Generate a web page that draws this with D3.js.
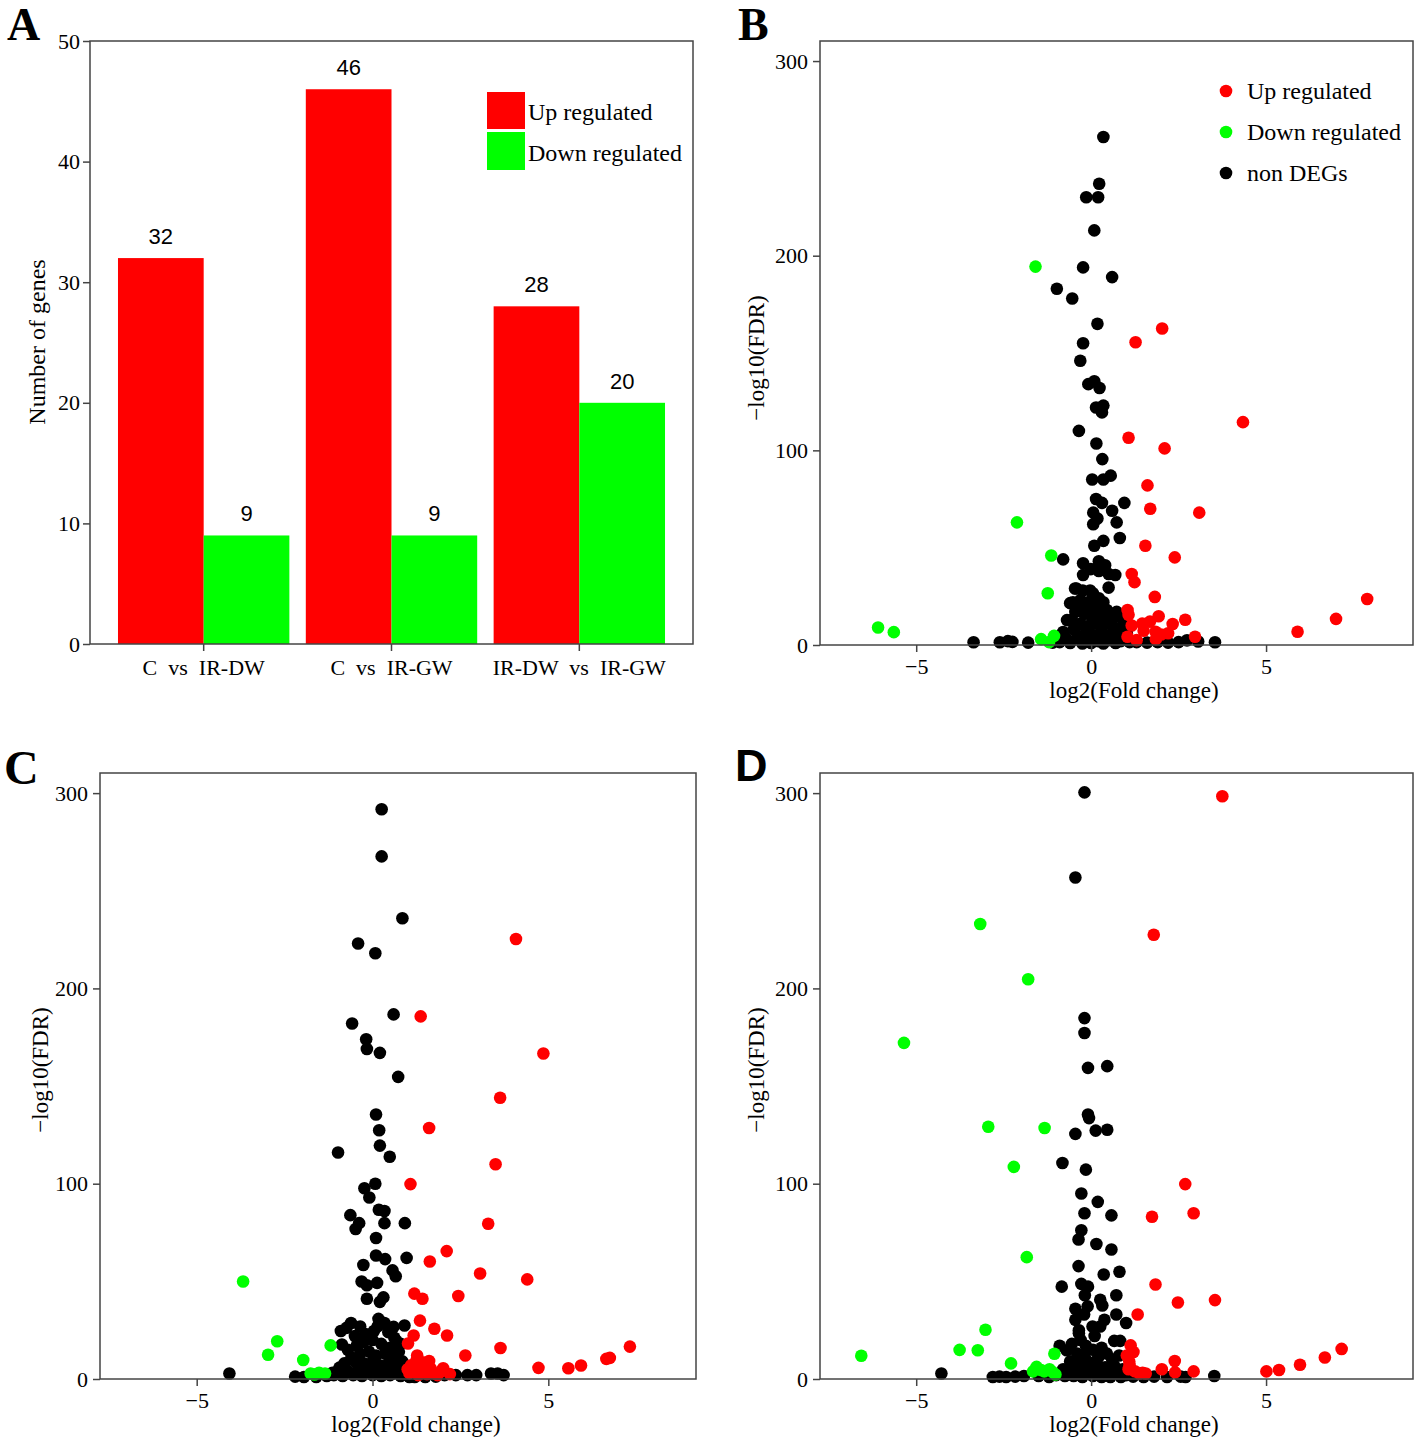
<!DOCTYPE html>
<html>
<head>
<meta charset="utf-8">
<script src="https://cdn.jsdelivr.net/npm/d3@7"></script>
<style>
  body { margin: 0; background: #fff; }
  svg { display: block; }
  .serif { font-family: "Liberation Serif", "Times New Roman", serif; }
  .sans { font-family: "Liberation Sans", Arial, sans-serif; }
</style>
</head>
<body>
<svg id="chart" width="1418" height="1443"></svg>
<script>
// ---------------- Panel A data ----------------
const barCategories = ["C  vs  IR-DW", "C  vs  IR-GW", "IR-DW  vs  IR-GW"];
const upCounts = [32, 46, 28];
const downCounts = [9, 9, 20];
const barYTicks = [0, 10, 20, 30, 40, 50];
const legendLabelsA = ["Up regulated", "Down regulated"];

// ---------------- Volcano axes ----------------
const volcanoXTicks = [-5, 0, 5];
const volcanoYTicks = [0, 100, 200, 300];
const volcanoLegend = ["Up regulated", "Down regulated", "non DEGs"];

// ---------------- Panel B data (log2FC, -log10 FDR) ----------------
const bUp = [[2.03,162.6],[1.27,155.5],[4.34,114.5],[1.07,106.5],[2.1,101],[1.61,82],[1.69,70],[3.09,68],[1.55,51],[2.39,45],[1.16,36.5],[1.24,32.3],[1.82,24.7],[7.89,23.6],[7.0,13.4],[5.9,6.8],[1.04,18],[1.07,15.5],[1.93,14.8],[1.46,11],[1.68,12],[2.33,10.8],[2.69,13],[1.16,10],[1.5,7.3],[1.84,6.8],[2.0,5.4],[2.2,6],[2.97,4.2],[1.04,4.2],[1.3,2.5],[1.85,3]];
const bDown = [[-1.59,194.4],[-2.12,63],[-1.14,46],[-1.24,26.6],[-6.09,9],[-5.64,6.6],[-1.43,3],[-1.06,4.7],[-1.2,1.5]];
const bNon = [[0.35,261],[0.23,237],[-0.14,230],[0.2,230],[0.09,213],[-0.23,194],[0.6,189],[-0.98,183],[-0.54,178],[0.18,165],[-0.23,155],[-0.31,146],[-0.08,134],[0.09,135.5],[0.24,132],[0.14,122],[0.35,123],[0.31,119.5],[-0.35,110],[0.15,103.5],[0.32,95.5],[0.03,85],[0.35,85],[0.56,87],[0.14,75],[0.31,73],[0.95,73],[0.6,69],[0.06,68],[0.18,65],[0.73,63],[0.06,62],[0.82,55],[0.35,53.5],[0.09,51],[-0.8,44],[-0.23,42],[0.22,43],[0.4,41],[-0.01,39],[0.22,38],[-0.23,36],[0.5,36.5],[0.69,36],[0.5,29.5],[-0.42,29],[-0.24,28],[0.05,26.6],[0.22,24],[-0.52,22],[-0.14,20],
  [-0.46,29],[-0.03,28],[-0.31,23],[0.06,24],[-0.6,21.5],[0.2,19.5],[0.45,18],[0.73,17],[0.83,14.4],[-0.69,12.8],[0.92,10.3],[-0.8,6.7],[1.02,6],[-0.45,17],[-0.2,16],[0.0,15],[0.25,14],[0.5,13],[-0.55,13],[-0.3,11],[-0.05,10],[0.3,9],[0.6,10],[0.75,7],[-0.5,8],[-0.15,6],[0.1,5],[0.45,5],[-0.7,3],[-0.4,3.5],[-0.1,2.5],[0.2,2],[0.55,2.5],[0.85,2],[-0.9,1.5],[1.1,1.5],[-1.1,1.2],[0.35,0.8],[-0.25,0.8],[0.7,1],[-0.6,1],[0.0,1],[-0.35,19],[0.1,18],[0.35,22],[-0.1,22],[0.6,14],[-0.25,4.5],[0.3,4],[0.15,11],[-0.4,10],
  [-3.36,1.4],[-2.61,1.4],[-2.38,2],[-2.25,1.6],[-1.8,1.2],[2.74,2.4],[3.06,1.8],[3.54,1.4],[2.5,1.5],[2.2,1.2],[1.9,1.5],[1.6,1.2],[1.3,1.5]];

// ---------------- Panel C data ----------------
const cUp = [[4.08,225.3],[1.37,185.7],[4.86,166.7],[3.63,144],[1.61,128.5],[3.5,110],[1.08,99.8],[3.29,79.5],[2.11,65.5],[1.63,60.2],[3.06,54],[4.4,51],[2.44,42.5],[1.19,43.7],[1.42,41.1],[1.35,29.9],[1.76,25.7],[2.12,22.3],[1.17,22.3],[1.01,18.2],[3.64,15.9],[7.32,16.6],[6.65,10.3],[6.75,10.8],[5.93,6.9],[5.57,5.5],[4.72,5.7],[2.64,12],[1.27,12],[1.61,9.2],[1.42,8.5],[2.01,5.5],
  [1.05,3],[1.2,5],[1.3,2],[1.45,4],[1.55,2.5],[1.7,3],[1.85,2],[1.95,4],[1.1,7],[1.35,6.5],[1.65,5.5],[2.2,2.5],[1.0,5],[1.25,9.5]];
const cDown = [[-3.68,49.9],[-2.71,19.3],[-2.97,12.4],[-1.97,9.7],[-1.19,17.2],[-1.76,2.8],[-1.52,3.2],[-1.35,2.8],[-1.65,2.3]];
const cNon = [[0.26,291.7],[0.26,267.6],[0.85,235.9],[-0.41,223],[0.08,218],[0.6,186.7],[-0.58,182],[-0.18,174],[-0.16,169],[0.21,167],[0.73,154.7],[0.1,135.4],[0.19,127.4],[0.21,119.5],[-0.98,116],[0.49,113.8],[0.08,100],[-0.23,97.7],[-0.09,92.9],[0.18,86.7],[0.34,86],[-0.63,83.9],[-0.38,79.8],[-0.48,76.8],[0.34,79.8],[0.92,79.8],[0.1,72.2],[0.1,63.2],[0.36,61.4],[-0.26,58.4],[0.97,62],[0.57,55.6],[0.66,52.6],[-0.31,49.9],[-0.16,48],[0.13,49.2],[0.31,41.8],[0.21,39.5],[-0.16,41.1],[-4.07,2.8],
  [0.17,30.8],[-0.61,28.7],[-0.74,26.2],[-0.35,26.9],[0.34,28.7],[0.6,26.7],[0.91,27.4],[0.04,24.6],[-0.87,17.7],[0.62,21.1],[-0.2,23],[0.15,27],[0.45,24],[-0.5,22],[0.8,18],[-0.7,15],[-0.45,17],[-0.25,19],[0,20],[0.25,18],[0.5,16],[0.75,14],[-0.6,11],[-0.35,13],[-0.1,14],[0.1,12],[0.35,13],[0.6,11],[0.85,9],[-0.8,8],[-0.5,9],[-0.25,8],[0,9],[0.2,7],[0.45,8],[0.7,6],[-0.95,5],[-0.7,4],[-0.4,5],[-0.15,4],[0.1,5],[0.35,4],[0.6,3],[0.9,3],[-1.1,2],[-0.85,1.5],[-0.55,2],[-0.3,1.5],[0,2],[0.25,1.5],[0.5,2],[0.8,1.5],[1.05,1],[-1.3,1.5],[-1.6,1],[-2.2,1.2],[-1.95,1],[2.37,2],[2.7,2],[2.95,2],[3.37,2.8],[3.56,2.8],[3.73,2],[2.05,2],[1.5,1],[1.8,1.2],[1.2,1],[-0.9,24.6],[0.68,19.5],[-1.14,3.2],[-0.94,5.8]];

// ---------------- Panel D data ----------------
const dUp = [[3.75,298.4],[1.79,227.5],[2.69,99.8],[2.93,84.9],[1.74,83.1],[1.84,48.4],[2.48,39.2],[3.54,40.4],[1.33,33],[7.16,15.4],[6.68,11],[5.97,7.3],[5.37,4.6],[5.01,3.9],[2.93,3.9],[2.39,9.2],[2.4,3.4],[2.02,5],[1.13,17.2],[1.21,13.8],[1.09,9],[1.07,5],[1.38,2.8],[1.56,2.8],[1.02,12],[1.47,3.2],[1.1,7],[1.25,4]];
const dDown = [[-3.17,233],[-1.8,204.7],[-5.35,172.1],[-2.94,129.2],[-1.33,128.5],[-2.21,108.6],[-1.84,62.4],[-3.02,25.2],[-3.76,14.9],[-3.24,14.7],[-6.57,11.9],[-1.05,12.9],[-2.29,8],[-1.56,6.2],[-1.43,4.6],[-1.66,3.9],[-1.19,5],[-1.09,3.4],[-1.02,2.3],[-1.34,3.9]];
const dNon = [[-0.19,300.4],[-0.45,256.8],[-0.19,184.8],[-0.19,177.2],[-0.09,159.3],[0.46,160.2],[-0.09,135.4],[-0.06,133.6],[0.13,127.2],[0.46,127.6],[-0.45,125.5],[-0.82,110.6],[-0.15,107.2],[-0.28,95],[0.19,90.7],[-0.19,84.9],[0.58,83.8],[-0.28,76.2],[-0.36,71.4],[0.15,69.1],[0.58,66.3],[-0.36,57.8],[0.81,54.9],[0.36,53.5],[-0.28,48.7],[-0.84,47.3],[-0.09,47.3],[0.26,40.6],[0.72,42.9],[0.32,37.6],[-0.18,42.9],[-0.1,37.2],[0.72,33],[-0.45,30.3],[0.38,30.3],[1.0,28.7],[0.04,26.9],[0.26,26.9],[-0.35,23.4],[0.66,19.5],[0.83,19.5],[-0.9,17],[-0.7,14.7],[-4.28,2.8],
  [-0.3,20],[-0.15,17],[0.05,15],[-0.4,13],[-0.2,12],[0.2,11],[0.45,13],[0.6,10],[0.8,12],[-0.6,9],[-0.35,8],[-0.1,9],[0.15,7],[0.4,6],[0.65,7],[0.9,5],[-0.8,5],[-0.5,4],[-0.25,5],[0,4],[0.25,3],[0.5,3],[0.75,2.5],[1.0,2],[-1.0,2],[-0.75,1.5],[-0.5,1.5],[-0.25,1],[0.05,1.5],[0.3,1],[0.55,1],[0.85,1],[1.2,1.2],[1.5,1],[1.8,1.2],[2.17,1],[2.56,1.2],[2.7,1],[-1.2,1],[-1.5,1.5],[-1.92,1.5],[-2.17,1.2],[-2.43,1],[-2.62,1.2],[-2.81,1],[3.52,1.5],[-0.45,36],[-0.35,25],[-0.2,33],[0.1,22],[-0.55,18],[0.3,16]];

// ---------------- Drawing ----------------
const svg = d3.select("#chart");
const AX = "#444";
const RED = "#ff0000", GREEN = "#00ff00", BLACK = "#000000";
const DOT_R = 6.3;

function styleAxis(g, fontSize) {
  g.select(".domain").remove();
  g.selectAll(".tick line").attr("stroke", AX).attr("stroke-width", 1.5);
  g.selectAll(".tick text")
    .attr("class", "serif")
    .attr("fill", "#000")
    .style("font-size", fontSize + "px")
    .style("white-space", "pre");
}

// ===== Panel A =====
(function () {
  const L = 90, R = 693, T = 41, B = 644;
  const y = d3.scaleLinear().domain([0, 50]).range([B, T]);
  const x = d3.scaleBand().domain(barCategories).range([L, R])
    .paddingInner(0.0875).paddingOuter(0.149);
  const g = svg.append("g");
  const bw = x.bandwidth() / 2;

  g.selectAll("rect.up").data(barCategories).join("rect")
    .attr("x", d => x(d)).attr("width", bw)
    .attr("y", (d, i) => y(upCounts[i])).attr("height", (d, i) => y(0) - y(upCounts[i]))
    .attr("fill", RED);
  g.selectAll("rect.down").data(barCategories).join("rect")
    .attr("x", d => x(d) + bw).attr("width", bw)
    .attr("y", (d, i) => y(downCounts[i])).attr("height", (d, i) => y(0) - y(downCounts[i]))
    .attr("fill", GREEN);

  barCategories.forEach((c, i) => {
    g.append("text").attr("class", "sans").attr("x", x(c) + bw / 2).attr("y", y(upCounts[i]) - 14)
      .attr("text-anchor", "middle").style("font-size", "22px").text(upCounts[i]);
    g.append("text").attr("class", "sans").attr("x", x(c) + bw * 1.5).attr("y", y(downCounts[i]) - 14)
      .attr("text-anchor", "middle").style("font-size", "22px").text(downCounts[i]);
  });

  g.append("rect").attr("x", L).attr("y", T).attr("width", R - L).attr("height", B - T)
    .attr("fill", "none").attr("stroke", AX).attr("stroke-width", 1.5);

  const ya = g.append("g").attr("transform", `translate(${L},0)`)
    .call(d3.axisLeft(y).tickValues(barYTicks).tickSize(7).tickPadding(3));
  styleAxis(ya, 22);
  const xa = g.append("g").attr("transform", `translate(0,${B})`)
    .call(d3.axisBottom(x).tickSize(7).tickPadding(8));
  styleAxis(xa, 22);

  g.append("text").attr("class", "serif")
    .attr("transform", "translate(37,342) rotate(-90)").attr("dy", "0.35em")
    .attr("text-anchor", "middle").style("font-size", "24px").text("Number of genes");

  const lg = g.append("g");
  lg.append("rect").attr("x", 487).attr("y", 92).attr("width", 38).attr("height", 37).attr("fill", RED);
  lg.append("rect").attr("x", 487).attr("y", 132).attr("width", 38).attr("height", 38).attr("fill", GREEN);
  lg.append("text").attr("class", "serif").attr("x", 528).attr("y", 120).style("font-size", "24px").text(legendLabelsA[0]);
  lg.append("text").attr("class", "serif").attr("x", 528).attr("y", 161).style("font-size", "24px").text(legendLabelsA[1]);

  svg.append("text").attr("class", "serif").attr("x", 7).attr("y", 40)
    .style("font-size", "46px").style("font-weight", "bold").text("A");
})();

// ===== Volcano panels =====
function volcano(cfg) {
  const { L, R, T, B } = cfg;
  const x = d3.scaleLinear().domain([-7.75, 9.2]).range([L, R]);
  const y = d3.scaleLinear().domain([0, 310.3]).range([B, T]);
  const g = svg.append("g");

  const layers = [[cfg.non, BLACK], [cfg.up, RED], [cfg.down, GREEN]];
  layers.forEach(([data, col]) => {
    g.append("g").selectAll("circle").data(data).join("circle")
      .attr("cx", d => x(d[0])).attr("cy", d => y(d[1])).attr("r", DOT_R).attr("fill", col);
  });

  g.append("rect").attr("x", L).attr("y", T).attr("width", R - L).attr("height", B - T)
    .attr("fill", "none").attr("stroke", AX).attr("stroke-width", 1.5);

  const ya = g.append("g").attr("transform", `translate(${L},0)`)
    .call(d3.axisLeft(y).tickValues(volcanoYTicks).tickSize(7).tickPadding(5));
  styleAxis(ya, 22);
  const xa = g.append("g").attr("transform", `translate(0,${B})`)
    .call(d3.axisBottom(x).tickValues(volcanoXTicks).tickSize(7).tickPadding(6));
  styleAxis(xa, 22);

  g.append("text").attr("class", "serif").attr("x", cfg.xtx).attr("y", B + 53)
    .attr("text-anchor", "middle").style("font-size", "23px").text("log2(Fold change)");
  g.append("text").attr("class", "serif")
    .attr("transform", `translate(${cfg.ytx},${cfg.yty}) rotate(-90)`).attr("dy", "0.35em")
    .attr("text-anchor", "middle").style("font-size", "23px").text("\u2212log10(FDR)");

  if (cfg.legend) {
    const cols = [RED, GREEN, BLACK];
    volcanoLegend.forEach((t, i) => {
      g.append("circle").attr("cx", 1226).attr("cy", 91 + i * 41).attr("r", DOT_R).attr("fill", cols[i]);
      g.append("text").attr("class", "serif").attr("x", 1247).attr("y", 99 + i * 41)
        .style("font-size", "24px").text(t);
    });
  }

  svg.append("text").attr("class", cfg.letterClass).attr("x", cfg.lx).attr("y", cfg.ly)
    .style("font-size", cfg.letterSize + "px").style("font-weight", "bold").text(cfg.letter);
}

volcano({ L: 820, R: 1413, T: 41, B: 645, up: bUp, down: bDown, non: bNon,
  xtx: 1134, ytx: 756, yty: 358, legend: true, letter: "B", lx: 738, ly: 40, letterClass: "serif", letterSize: 46 });
volcano({ L: 100, R: 696, T: 773, B: 1379, up: cUp, down: cDown, non: cNon,
  xtx: 416, ytx: 40, yty: 1070, legend: false, letter: "C", lx: 4, ly: 784, letterClass: "serif", letterSize: 48 });
volcano({ L: 820, R: 1413, T: 773, B: 1379, up: dUp, down: dDown, non: dNon,
  xtx: 1134, ytx: 756, yty: 1070, legend: false, letter: "D", lx: 735, ly: 781, letterClass: "sans", letterSize: 45 });
</script>
</body>
</html>
